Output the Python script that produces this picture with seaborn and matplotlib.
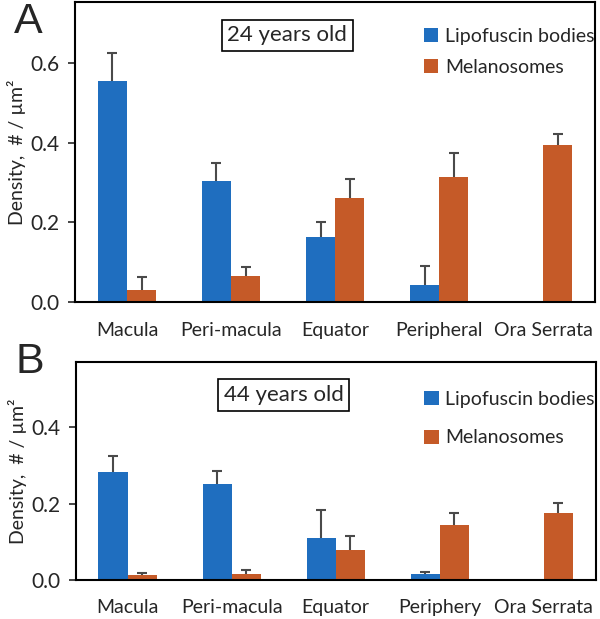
import pandas as pd
import numpy as np
import matplotlib.pyplot as plt
import seaborn as sns

sns.set_style("white")
plt.rcParams['font.family'] = ['Lato', 'DejaVu Sans']

regions_a = ['Macula', 'Peri-macula', 'Equator', 'Peripheral', 'Ora Serrata']
regions_b = ['Macula', 'Peri-macula', 'Equator', 'Periphery', 'Ora Serrata']
series = ['Lipofuscin bodies', 'Melanosomes']

# panel A: 24 years old
lipo_a     = [0.556, 0.303, 0.163, 0.043, np.nan]
lipo_a_err = [0.069, 0.045, 0.038, 0.048, np.nan]
mel_a      = [0.031, 0.066, 0.262, 0.315, 0.394]
mel_a_err  = [0.031, 0.022, 0.047, 0.060, 0.029]

# panel B: 44 years old
lipo_b     = [0.282, 0.251, 0.109, 0.015, np.nan]
lipo_b_err = [0.042, 0.034, 0.074, 0.006, np.nan]
mel_b      = [0.012, 0.015, 0.078, 0.144, 0.176]
mel_b_err  = [0.006, 0.010, 0.038, 0.031, 0.026]

colors = ['#1F6EBF', '#C55A28']


def make_df(regions, lipo, mel):
    return pd.DataFrame({
        'region': regions * 2,
        'kind': [series[0]] * len(regions) + [series[1]] * len(regions),
        'density': list(lipo) + list(mel),
    })


def draw_panel(ax, regions, lipo, lipo_err, mel, mel_err, ymax, yticks,
               label, box_xy, leg_anchor, leg_spacing):
    df = make_df(regions, lipo, mel)
    sns.barplot(data=df, x='region', y='density', hue='kind', order=regions,
                hue_order=series, palette=colors, width=0.56, gap=0,
                saturation=1, errorbar=None, linewidth=0, ax=ax)
    # upper error bars only, cap on top
    for cont, vals, errs in zip(ax.containers, [lipo, mel], [lipo_err, mel_err]):
        for bar, v, e in zip(cont, vals, errs):
            if np.isnan(v) or np.isnan(e):
                continue
            xc = bar.get_x() + bar.get_width() / 2
            _, caps, _ = ax.errorbar(xc, v, yerr=[[0], [e]], fmt='none',
                                     ecolor='#4a4a4a', elinewidth=1.5,
                                     capsize=3.5, capthick=1.5)
            caps[0].remove()
    ax.set_xlim(-0.5, 4.5)
    ax.set_ylim(0, ymax)
    ax.set_yticks(yticks)
    ax.set_yticklabels([f'{t:.1f}' for t in yticks])
    ax.set_xlabel('')
    ax.set_ylabel('Density,  # / µm²', fontsize=14, labelpad=3)
    ax.tick_params(axis='y', which='both', left=True, length=5, width=1.2,
                   labelsize=15, pad=6)
    ax.tick_params(axis='x', length=0, labelsize=14, pad=14)
    for s in ax.spines.values():
        s.set_visible(True)
        s.set_color('black')
        s.set_linewidth(1.5)
    ax.text(box_xy[0], box_xy[1], label, transform=ax.transAxes,
            ha='center', va='center', fontsize=16,
            bbox=dict(boxstyle='square,pad=0.25', fc='white', ec='black', lw=1.2))
    ax.legend(loc='center left', bbox_to_anchor=leg_anchor, frameon=False,
              fontsize=14, handlelength=0.75, handleheight=0.75,
              handletextpad=0.35, labelspacing=leg_spacing, borderaxespad=0)


fig = plt.figure(figsize=(6.0, 6.19), dpi=100)
ax_a = fig.add_axes([0.125, 0.512, 0.867, 0.484])
ax_b = fig.add_axes([0.126, 0.063, 0.867, 0.352])

draw_panel(ax_a, regions_a, lipo_a, lipo_a_err, mel_a, mel_a_err,
           0.752, [0.0, 0.2, 0.4, 0.6], '24 years old', (0.408, 0.89),
           (0.655, 0.835), 0.7)
draw_panel(ax_b, regions_b, lipo_b, lipo_b_err, mel_b, mel_b_err,
           0.571, [0.0, 0.2, 0.4], '44 years old', (0.40, 0.849),
           (0.655, 0.74), 1.1)

fig.text(0.047, 0.965, 'A', fontsize=31, ha='center', va='center',
         family=['Liberation Sans', 'DejaVu Sans'])
fig.text(0.05, 0.415, 'B', fontsize=31, ha='center', va='center',
         family=['Liberation Sans', 'DejaVu Sans'])

plt.savefig('out.png', dpi=100)
